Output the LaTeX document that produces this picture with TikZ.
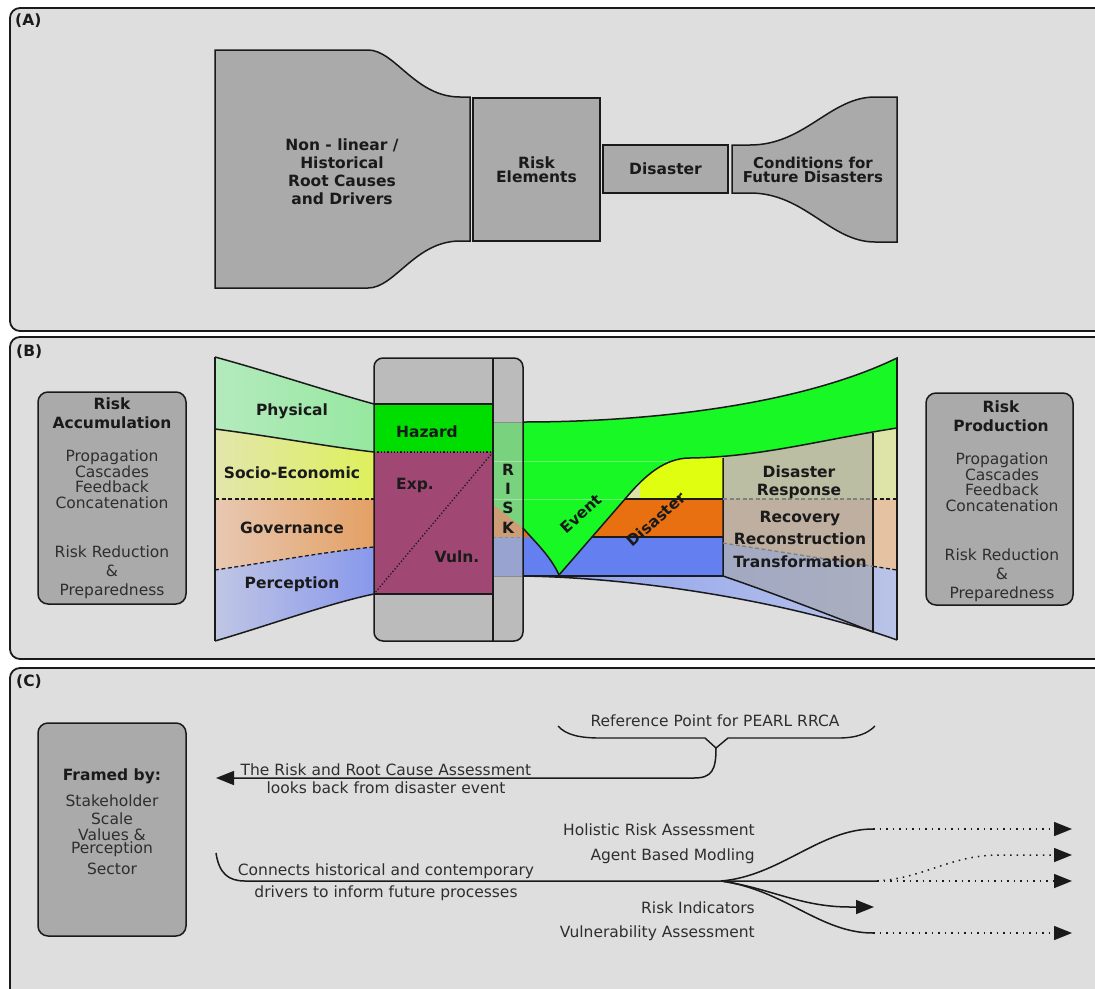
\documentclass[tikz,border=0pt]{standalone}
\usepackage{fontspec}
\setmainfont{DejaVu Sans}
\usetikzlibrary{arrows.meta}
\definecolor{panelbg}{RGB}{222,222,222}
\definecolor{boxA}{RGB}{170,170,170}
\definecolor{boxB}{RGB}{187,187,187}
\definecolor{physL}{RGB}{180,234,190}
\definecolor{physR}{RGB}{150,232,160}
\definecolor{socL}{RGB}{226,230,172}
\definecolor{socR}{RGB}{222,240,92}
\definecolor{govL}{RGB}{232,200,178}
\definecolor{govR}{RGB}{228,160,100}
\definecolor{perL}{RGB}{192,198,228}
\definecolor{perR}{RGB}{136,152,236}
\definecolor{hazgreen}{RGB}{0,222,0}
\definecolor{vulnmag}{RGB}{160,72,115}
\definecolor{evgreen}{RGB}{24,248,36}
\definecolor{dyellow}{RGB}{224,255,16}
\definecolor{dorange}{RGB}{232,112,16}
\definecolor{dblue}{RGB}{100,128,240}
\definecolor{syellow}{RGB}{222,228,168}
\definecolor{sorange}{RGB}{228,194,162}
\definecolor{sblue}{RGB}{186,196,232}
\definecolor{sblueL}{RGB}{140,160,240}
\definecolor{trapgray}{RGB}{160,160,160}
\definecolor{ink}{RGB}{26,26,26}
\begin{document}
\begin{tikzpicture}[x=1pt,y=-1pt,
  panel/.style={draw=ink, line width=1.8pt, fill=panelbg, rounded corners=10pt},
  gbox/.style={draw=ink, line width=1.5pt, fill=boxA},
  lab/.style={font=\bfseries\fontsize{15.5}{18}\selectfont, text=ink, align=center, inner sep=0pt},
  txt/.style={font=\fontsize{15.5}{17}\selectfont, text=black!82, align=center, inner sep=0pt},
  edge/.style={draw=ink, line width=1.5pt},
  dashline/.style={line width=1.3pt, dash pattern=on 4pt off 2.5pt},
  dotline/.style={draw=ink, line width=1.5pt, dash pattern=on 1.5pt off 5pt},
  tip/.style={-{Triangle[length=18pt,width=14pt]}},
  plabel/.style={font=\bfseries\fontsize{15.5}{15.5}\selectfont, text=ink, anchor=west, inner sep=0pt},
]
\useasboundingbox (0,0) rectangle (1095,988);

% ---------------- panels
\draw[panel] (10,8) rectangle (1115,331);
\draw[panel] (10,337) rectangle (1115,659);
\draw[panel] (10,668) rectangle (1115,1005);
\node[plabel] (pa) at (15,21) {(A)};
\node[plabel] (pb) at (16,352) {(B)};
\node[plabel] (pc) at (16,682) {(C)};

% ---------------- panel A
\filldraw[gbox] (215,50) -- (368,50) .. controls (395,50) and (415,97) .. (460,97) -- (470,97)
  -- (470,241) -- (460,241) .. controls (415,241) and (395,288) .. (368,288) -- (215,288) -- cycle;
\node[lab] (roots) at (342,172) {Non - linear /\\Historical\\Root Causes\\and Drivers};
\node[gbox, lab, font=\bfseries\fontsize{15.5}{14}\selectfont, minimum width=127pt, minimum height=143pt] (riskel) at (536.5,169.5) {Risk\\Elements};
\node[gbox, lab, minimum width=125pt, minimum height=48pt] (disA) at (665.5,169) {Disaster};
\filldraw[gbox] (732,145) -- (750,145) .. controls (805,145) and (830,97) .. (875,97) -- (897,97)
  -- (897,242) -- (875,242) .. controls (830,242) and (805,193) .. (750,193) -- (732,193) -- cycle;
\node[lab, font=\bfseries\fontsize{15}{14}\selectfont] (cond) at (813,170) {Conditions for\\Future Disasters};

% ---------------- panel B : side boxes
\node[gbox, rounded corners=10pt, minimum width=148pt, minimum height=212pt] (accum) at (112,498) {};
\node[lab, font=\bfseries\fontsize{15.5}{19}\selectfont] (accT) at (112,413) {Risk\\Accumulation};
\node[txt, font=\fontsize{15.5}{15.5}\selectfont] (accL) at (112,479) {Propagation\\Cascades\\Feedback\\Concatenation};
\node[txt, font=\fontsize{15.5}{19}\selectfont] (accR) at (112,572) {Risk Reduction\\\&\\Preparedness};

\node[gbox, rounded corners=10pt, minimum width=147pt, minimum height=212pt] (prod) at (999.5,499) {};
\node[lab, font=\bfseries\fontsize{15.5}{19}\selectfont] (prodT) at (1001,416) {Risk\\Production};
\node[txt, font=\fontsize{15.5}{15.5}\selectfont] (prodL) at (1002,482) {Propagation\\Cascades\\Feedback\\Concatenation};
\node[txt, font=\fontsize{15.5}{19}\selectfont] (prodR) at (1002,575) {Risk Reduction\\\&\\Preparedness};

% ---------------- panel B : left funnel
\shade[left color=physL, right color=physR] (215,357) .. controls (270,372) and (330,392) .. (374,404)
  -- (374,452) .. controls (330,447) and (270,436) .. (215,429) -- cycle;
\shade[left color=socL, right color=socR] (215,429) .. controls (270,436) and (330,447) .. (374,452)
  -- (374,499) -- (215,499) -- cycle;
\shade[left color=govL, right color=govR] (215,499) -- (374,499) -- (374,547)
  .. controls (330,551) and (270,562) .. (215,570) -- cycle;
\shade[left color=perL, right color=perR] (215,570) .. controls (270,562) and (330,551) .. (374,547)
  -- (374,594) .. controls (330,603) and (270,625) .. (215,641) -- cycle;
\draw[edge] (215,357) .. controls (270,372) and (330,392) .. (374,404);
\draw[edge] (215,429) .. controls (270,436) and (330,447) .. (374,452);
\draw[ink, dashline] (215,499) -- (374,499);
\draw[ink, dashline] (215,570) .. controls (270,562) and (330,551) .. (374,547);
\draw[edge] (215,641) .. controls (270,625) and (330,603) .. (374,594);
\draw[edge] (215,357) -- (215,641);

% ---------------- central box, opaque base
\begin{scope}
  \clip[rounded corners=9pt] (374,358) rectangle (523,641);
  \fill[boxB] (374,358) rectangle (523,641);
\end{scope}

% ---------------- panel B : right side bands
\begin{scope}
  \clip (897,428) .. controls (820,440) and (760,457) .. (690,458) -- (500,458) -- (500,700) -- (910,700) -- (910,428) -- cycle;
  \clip (523,576) .. controls (650,578) and (800,605) .. (897,640) -- (897,400) -- (523,400) -- cycle;
  \fill[syellow] (500,400) rectangle (900,499);
  \fill[sorange] (500,499) -- (900,499) -- (897,570) -- (723,543) -- (500,543) -- cycle;
  \shade[left color=sblueL, right color=sblue] (523,543) -- (723,543) -- (897,570) -- (897,645) -- (523,645) -- cycle;
\end{scope}
\fill[dorange] (493,499) rectangle (723,537);
\fill[dblue] (493,537) rectangle (723,576);
\fill[dyellow] (640,455) rectangle (723,499);
\fill[evgreen] (493,422) -- (523,422) .. controls (650,422) and (800,405) .. (897,358) -- (897,428)
  .. controls (820,440) and (760,457) .. (690,458) .. controls (665,458) and (645,475) .. (625,499)
  -- (559,575) .. controls (550,555) and (533,540) .. (523,528) -- (493,504) -- cycle;
% translucent response box
\begin{scope}
  \clip (897,428) .. controls (820,440) and (760,457) .. (690,458) -- (690,700) -- (910,700) -- (910,428) -- cycle;
  \fill[trapgray, fill opacity=0.55] (723,420) -- (873,420) -- (873,632) .. controls (830,615) and (770,592) .. (723,576) -- cycle;
\end{scope}

% ---------------- central box, translucent RISK column
\begin{scope}
  \clip[rounded corners=9pt] (374,358) rectangle (523,641);
  \fill[boxB, fill opacity=0.6] (493,358) rectangle (523,641);
\end{scope}
\fill[hazgreen] (374,404) rectangle (493,452);
\fill[vulnmag] (374,452) rectangle (493,594);
\draw[edge] (374,404) -- (493,404);
\draw[edge] (374,594) -- (493,594);
\draw[ink, line width=1.3pt, dotted] (374,452) -- (493,452);
\draw[ink, line width=1.3pt, dotted] (493,452) -- (374,594);

% faint band lines inside the green
\begin{scope}
  \clip (493,422) -- (523,422) .. controls (650,422) and (800,405) .. (897,358) -- (897,428)
  .. controls (820,440) and (760,457) .. (690,458) .. controls (665,458) and (645,475) .. (625,499)
  -- (559,575) .. controls (550,555) and (533,540) .. (523,528) -- (493,504) -- cycle;
  \draw[white, opacity=0.35, line width=1pt] (493,461) -- (900,461) (493,499) -- (900,499);
\end{scope}
\draw[black!45, line width=1pt] (493,422) -- (523,422);
\draw[black!45, line width=1pt, dashed] (493,537) -- (523,537);
\draw[black!45, line width=1pt] (493,576) -- (523,576);

% outlines right side
\draw[edge] (523,422) .. controls (650,422) and (800,405) .. (897,358) -- (897,428)
  .. controls (820,440) and (760,457) .. (690,458) .. controls (665,458) and (645,475) .. (625,499)
  -- (559,575) .. controls (550,555) and (533,540) .. (523,528);
\draw[edge] (625,499) -- (723,499);
\draw[edge] (592,537) -- (723,537);
\draw[edge] (523,576) -- (723,576);
\draw[edge] (523,576) .. controls (650,578) and (800,605) .. (897,640);
\draw[edge] (723,458) -- (723,576) .. controls (770,592) and (830,615) .. (873,632);
\draw[edge] (873,433) -- (873,632);
\draw[edge] (897,358) -- (897,640);
\draw[black!50, dashline] (723,499) -- (873,499);
\draw[ink, dashline] (873,499) -- (897,499);
\draw[black!50, dashline] (723,543) -- (873,566.3);
\draw[ink, dashline] (873,566.3) -- (897,570);

% central box outline
\draw[edge, rounded corners=9pt] (374,358) rectangle (523,641);
\draw[edge] (493,358) -- (493,641);

% ---------------- panel B texts
\node[lab] (phys) at (292,411) {Physical};
\node[lab] (soc) at (292,473) {Socio-Economic};
\node[lab] (gov) at (292,528) {Governance};
\node[lab] (perc) at (292,584) {Perception};
\node[lab] (haz) at (427,432) {Hazard};
\node[lab] (exp) at (415,485) {Exp.};
\node[lab] (vuln) at (457,557) {Vuln.};
\node[lab] (rR) at (508,470) {R};
\node[lab] (rI) at (508,489) {I};
\node[lab] (rS) at (508,508) {S};
\node[lab] (rK) at (508,528) {K};
\node[lab, rotate=42] (event) at (581,514) {Event};
\node[lab, rotate=42] (disB) at (656,519) {Disaster};
\node[lab, font=\bfseries\fontsize{15.5}{18}\selectfont] (resp) at (799,482) {Disaster\\Response};
\node[lab, font=\bfseries\fontsize{15.5}{22.5}\selectfont] (recov) at (800,539) {Recovery\\Reconstruction\\Transformation};

% ---------------- panel C
\node[gbox, rounded corners=10pt, minimum width=148pt, minimum height=213pt] (framed) at (112,829.5) {};
\node[lab] (frT) at (112,776) {Framed by:};
\node[txt] (fr1) at (112,801) {Stakeholder};
\node[txt] (fr2) at (112,819) {Scale};
\node[txt, font=\fontsize{15.5}{13.5}\selectfont] (fr3) at (112,842.5) {Values \&\\Perception};
\node[txt] (fr4) at (112,869) {Sector};

\coordinate (bt) at (716,748);
\coordinate (backend) at (216,778);
\draw[ink, line width=1.4pt] (558,726) .. controls (566,735) and (580,738) .. (600,738) -- (705,738) -- (bt)
  -- (728,738) -- (838,738) .. controls (858,738) and (868,733) .. (875,726);
\node[txt, anchor=base] (refpt) at (715,726) {Reference Point for PEARL RRCA};
\draw[edge, tip] (bt) .. controls (716,770) and (712,778) .. (694,778) -- (backend);
\node[txt, anchor=base] (rrca1) at (386,775) {The Risk and Root Cause Assessment};
\node[txt, anchor=base] (rrca2) at (386,793) {looks back from disaster event};

\coordinate (cstart) at (216,853);
\coordinate (branch) at (721,881);
\coordinate (mainend) at (877,881);
\coordinate (mainarr) at (1072,881);
\coordinate (h1) at (873,829);
\coordinate (h2) at (1072,829);
\coordinate (a2) at (1072,855);
\coordinate (riend) at (874,907);
\coordinate (v1) at (873,933);
\coordinate (v2) at (1072,933);
\draw[edge] (cstart) .. controls (219,873) and (228,881) .. (245,881) -- (mainend);
\draw[dotline, tip] (mainend) -- (mainarr);
\draw[edge] (branch) .. controls (780,876) and (820,829) .. (h1);
\draw[dotline, tip] (h1) -- (h2);
\draw[dotline, tip] (mainend) .. controls (925,878) and (950,855) .. (1000,855) -- (a2);
\draw[edge, tip] (branch) .. controls (770,888) and (800,907) .. (850,907) -- (riend);
\draw[edge] (branch) .. controls (785,890) and (820,933) .. (v1);
\draw[dotline, tip] (v1) -- (v2);
\node[txt, anchor=base] (conn1) at (386,875) {Connects historical and contemporary};
\node[txt, anchor=base] (conn2) at (386,897) {drivers to inform future processes};
\node[txt, anchor=base east] (hra) at (755,835) {Holistic Risk Assessment};
\node[txt, anchor=base east] (abm) at (755,860) {Agent Based Modling};
\node[txt, anchor=base east] (ri) at (755,913) {Risk Indicators};
\node[txt, anchor=base east] (va) at (755,937) {Vulnerability Assessment};
\end{tikzpicture}
\end{document}
